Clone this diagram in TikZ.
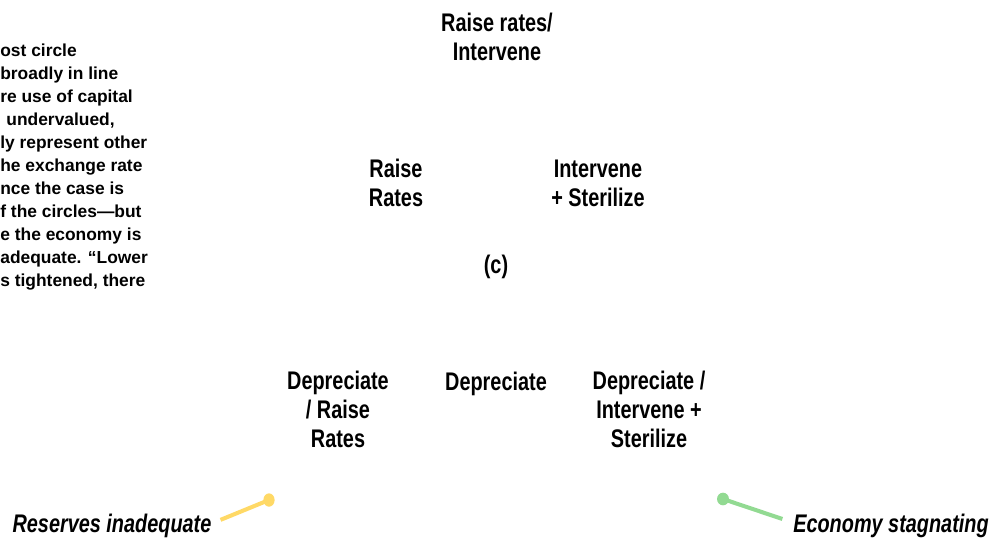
\documentclass[tikz,border=0pt]{standalone}
\usepackage{fontspec}
\setmainfont{Liberation Sans}
\newfontfamily\narrowfont[FakeStretch=0.78]{Liberation Sans}
\usetikzlibrary{positioning, calc}
\definecolor{rsvgold}{RGB}{255, 217, 102}
\definecolor{ecogreen}{RGB}{146, 218, 146}

\begin{document}
\begin{tikzpicture}[x=0.02cm, y=-0.02cm,
    option/.style={font=\narrowfont\bfseries\fontsize{14.5}{16.5}\selectfont, align=center, inner sep=0pt},
    tag/.style={font=\narrowfont\bfseries\itshape\fontsize{14.5}{16.5}\selectfont, inner sep=0pt},
    leader/.style={line width=2.3pt}]

\useasboundingbox (0,0) rectangle (997,539);

% --- Texto cortado a la izquierda ---
\node[anchor=west, align=left, inner sep=0pt, font=\bfseries\fontsize{9.9}{13.1}\selectfont] (bodytext) at (0,167) {%
ost circle\\
broadly in line\\
re use of capital\\
\hspace*{0.35em}undervalued,\\
ly represent other\\
he exchange rate\\
nce the case is\\
f the circles---but\\
e the economy is\\
adequate. ``Lower\\
s tightened, there};

% --- Panel (c), fila superior ---
\node[option] (rateint) at (497,37) {Raise rates/\\Intervene};
\node[option] (raise) at (396,183) {Raise\\Rates};
\node[option] (sterilize) at (598,183) {Intervene\\+ Sterilize};
\node[option] (panelc) at (496,267) {(c)};

% --- Fila inferior ---
\node[option] (depraise) at (338,409) {Depreciate\\/ Raise\\Rates};
\node[option] (dep) at (496,384) {Depreciate};
\node[option] (depster) at (649,409) {Depreciate /\\Intervene +\\Sterilize};

% --- Etiquetas de los ejes ---
\node[tag] (reserves) at (112,526) {Reserves inadequate};
\node[tag] (economy) at (891,526) {Economy stagnating};

\coordinate (golddot) at (269,500);
\coordinate (greendot) at (723,499);
\draw[leader, rsvgold] ([xshift=5pt, yshift=3.5pt]reserves.east) -- (golddot);
\fill[rsvgold] (golddot) ellipse (3.2pt and 3.8pt);
\draw[leader, ecogreen] ([xshift=-6pt, yshift=4pt]economy.west) -- (greendot);
\fill[ecogreen] (greendot) ellipse (3.4pt and 3.6pt);

\end{tikzpicture}
\end{document}
